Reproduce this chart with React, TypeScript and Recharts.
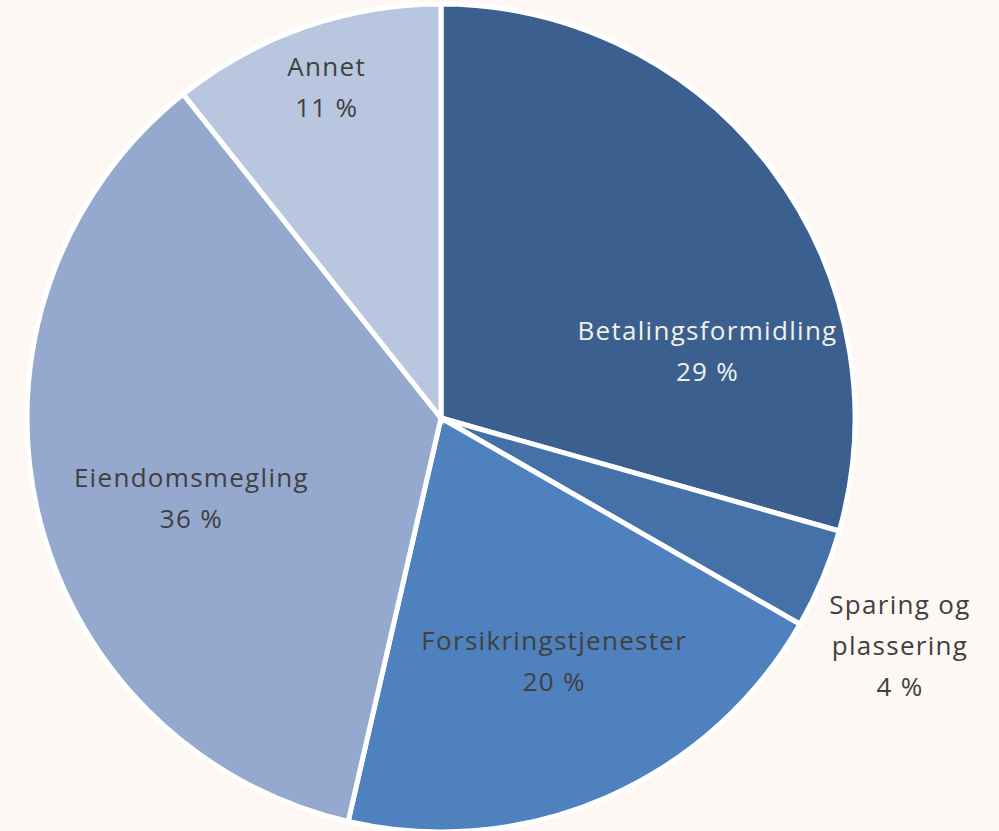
import * as React from "react";
import { PieChart, Pie, Cell } from "recharts";

const categories = [
  "Betalingsformidling",
  "Sparing og plassering",
  "Forsikringstjenester",
  "Eiendomsmegling",
  "Annet",
];
const shares = [29.4, 3.9, 20.3, 35.7, 10.7];
const percentLabels = ["29 %", "4 %", "20 %", "36 %", "11 %"];
const labelLines = [
  ["Betalingsformidling"],
  ["Sparing og", "plassering"],
  ["Forsikringstjenester"],
  ["Eiendomsmegling"],
  ["Annet"],
];

const colors = ["#3b5f8e", "#4472a8", "#4e81bd", "#95a9cf", "#b9c6e0"];
const textColors = ["#f2f0ea", "#404040", "#404040", "#404040", "#404040"];
// label placement: radius and angle (deg, counter-clockwise from 3 o'clock)
const labelPlace = [
  { r: 275, a: 14.3 },
  { r: 512, a: -26.3 },
  { r: 268, a: -65 },
  { r: 262, a: 197.7 },
  { r: 351, a: 109 },
];

const data = categories.map((name, i) => ({ name, value: shares[i] }));

const LINE_H = 41;

const renderLabel = (props: any) => {
  const { cx, cy, index } = props;
  const p = labelPlace[index];
  const rad = (p.a * Math.PI) / 180;
  const x = cx + p.r * Math.cos(rad);
  const y = cy - p.r * Math.sin(rad);
  const lines = [...labelLines[index], percentLabels[index]];
  const top = y - ((lines.length - 1) * LINE_H) / 2;
  return (
    <text
      key={`lbl-${index}`}
      x={x}
      y={top}
      textAnchor="middle"
      dominantBaseline="central"
      fill={textColors[index]}
      fontFamily="'Open Sans', sans-serif"
      fontSize={26}
      letterSpacing={1.3}
    >
      {lines.map((l, j) => (
        <tspan key={j} x={x} y={top + j * LINE_H}>
          {l}
        </tspan>
      ))}
    </text>
  );
};

export default function App() {
  return (
    <div
      style={{
        position: "absolute",
        left: 0,
        top: 0,
        width: 999,
        height: 831,
        background: "#fdf8f4",
      }}
    >
      <PieChart
        width={999}
        height={831}
        margin={{ top: 0, right: 0, bottom: 0, left: 0 }}
      >
        <Pie
          data={data}
          dataKey="value"
          nameKey="name"
          cx={441}
          cy={418}
          outerRadius={414}
          startAngle={90}
          endAngle={-270}
          stroke="#ffffff"
          strokeWidth={5}
          label={renderLabel}
          labelLine={false}
          isAnimationActive={false}
        >
          {data.map((entry, index) => (
            <Cell key={`cell-${index}`} fill={colors[index]} />
          ))}
        </Pie>
      </PieChart>
    </div>
  );
}
